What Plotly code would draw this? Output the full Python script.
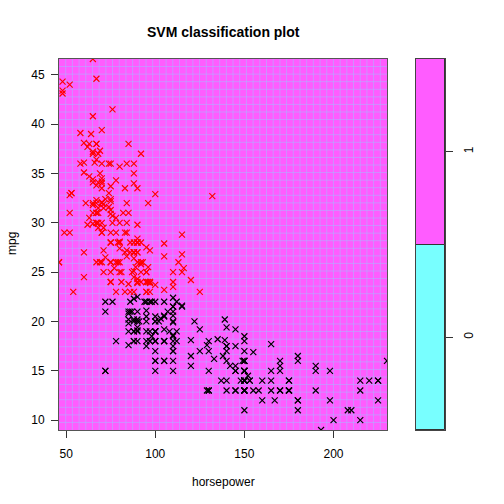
import numpy as np
import plotly.graph_objects as go

horsepower = [
    130,165,150,150,140,198,220,215,225,190,170,160,150,225,95,95,97,85,88,46,87,90,95,113,90,215,200,210,193,
    88,90,95,100,105,100,88,100,165,175,153,150,180,170,175,110,72,100,88,86,90,70,76,65,69,60,70,95,80,54,90,86,
    165,175,150,153,150,208,155,160,190,97,150,130,140,150,112,76,87,69,86,92,97,80,88,
    175,150,145,137,150,198,150,158,150,215,225,175,105,100,100,88,95,46,150,167,170,180,100,88,72,94,90,85,107,90,145,230,49,75,91,112,150,110,122,180,
    95,100,100,67,80,65,75,100,110,105,140,150,150,140,150,83,67,78,52,61,75,75,75,97,93,67,
    95,105,72,72,170,145,150,148,110,105,110,95,110,110,129,75,83,100,78,96,71,97,97,70,90,95,88,98,115,53,86,81,92,79,83,
    140,150,120,152,100,105,81,90,52,60,70,53,100,78,110,95,71,70,75,72,102,150,88,108,120,180,145,130,150,68,80,58,96,70,
    145,110,145,130,110,105,100,98,180,170,190,149,78,88,75,89,63,83,67,78,97,110,110,
    48,66,52,70,60,110,140,139,105,95,85,88,100,90,105,85,110,120,145,165,139,140,68,95,97,75,95,105,85,97,103,125,115,133,71,68,
    115,85,88,90,110,130,129,138,135,155,142,125,150,71,65,80,80,77,125,71,90,70,70,65,69,
    90,115,115,90,76,60,70,65,90,88,90,90,78,90,75,92,75,65,105,65,48,48,67,67,67,67,62,132,100,88,72,
    84,84,92,110,84,58,64,60,67,65,62,68,63,65,65,74,75,75,100,74,80,76,116,120,110,105,88,85,
    88,88,88,85,84,90,92,74,68,68,63,70,88,75,70,67,67,67,110,85,92,112,96,84,90,86,52,84,79,82,
]

mpg = [
    18,15,18,16,17,15,14,14,14,15,15,14,15,14,24,22,18,21,27,26,25,24,25,26,21,10,10,11,9,
    27,28,25,19,16,17,19,18,14,14,14,14,12,13,13,18,22,19,18,23,28,30,30,31,35,27,26,24,25,23,20,21,
    13,14,15,14,17,11,13,12,13,19,15,13,13,14,18,22,21,26,22,28,23,28,27,
    13,14,13,14,15,12,13,13,14,13,12,13,18,16,18,18,23,26,11,12,13,12,18,20,21,22,18,19,21,26,15,16,29,24,20,19,15,24,20,11,
    20,19,15,31,26,32,25,16,16,18,16,13,14,14,14,29,26,26,31,32,28,24,26,24,26,31,
    19,18,15,15,16,15,16,14,17,16,15,18,21,20,13,29,23,20,23,24,25,24,18,29,19,23,23,22,25,33,28,25,25,26,27,
    17.5,16,15.5,14.5,22,22,24,22.5,29,24.5,29,33,20,18,18.5,17.5,29.5,32,28,26.5,20,13,19,19,16.5,16.5,13,13,13,31.5,30,36,25.5,33.5,
    17.5,17,15.5,15,17.5,20.5,19,18.5,16,15.5,15.5,16,29,24.5,26,25.5,30.5,33.5,30,30.5,22,21.5,21.5,
    43.1,36.1,32.8,39.4,36.1,19.9,19.4,20.2,19.2,20.5,20.2,25.1,20.5,19.4,20.6,20.8,18.6,18.1,19.2,17.7,18.1,17.5,30,27.5,27.2,30.9,21.1,23.2,23.8,23.9,20.3,17,21.6,16.2,31.5,29.5,
    21.5,19.8,22.3,20.2,20.6,17,17.6,16.5,18.2,16.9,15.5,19.2,18.5,31.9,34.1,35.7,27.4,25.4,23,27.2,23.9,34.2,34.5,31.8,37.3,
    28.4,28.8,26.8,33.5,41.5,38.1,32.1,37.2,28,26.4,24.3,19.1,34.3,29.8,31.3,37,32.2,46.6,27.9,40.8,44.3,43.4,36.4,30,44.6,33.8,29.8,32.7,23.7,35,32.4,
    27.2,26.6,25.8,23.5,30,39.1,39,35.1,32.3,37,37.7,34.1,34.7,34.4,29.9,33,33.7,32.4,32.9,31.6,28.1,30.7,25.4,24.2,22.4,26.6,20.2,17.6,
    28,27,34,31,29,27,24,36,37,31,38,36,36,36,34,38,32,38,25,38,26,22,32,36,27,27,44,32,28,31,
]

key_levels = [1, 2, 3]
key_labels = ["0", "1"]
x_ticks = [50, 100, 150, 200]
y_ticks = [10, 15, 20, 25, 30, 35, 40, 45]

MAGENTA = "#FF5CFF"
CYAN = "#78FFFF"
SEAM = "rgba(175,175,255,0.6)"

hp = np.array(horsepower, dtype=float)
mp = np.array(mpg, dtype=float)
cls = (mp > np.median(mp)).astype(int)

xr = np.linspace(hp.min(), hp.max(), 50)
yr = np.linspace(mp.min(), mp.max(), 50)

fig = go.Figure()

# filled.contour seams
sx, sy = [], []
for v in xr[1:-1]:
    sx += [v, v, None]
    sy += [yr[0], yr[-1], None]
for v in yr[1:-1]:
    sx += [xr[0], xr[-1], None]
    sy += [v, v, None]
fig.add_trace(go.Scatter(x=sx, y=sy, mode="lines", line=dict(color=SEAM, width=1),
                         hoverinfo="skip", showlegend=False))

for c, col in [(0, "black"), (1, "red")]:
    m = cls == c
    fig.add_trace(go.Scatter(
        x=hp[m], y=mp[m], mode="markers", showlegend=False,
        marker=dict(symbol="x-thin-open", size=6, color=col, line=dict(color=col, width=1.15)),
    ))

# key
fig.add_trace(go.Bar(
    x=[0, 0], y=np.diff(key_levels), base=key_levels[:-1], width=1,
    marker=dict(color=[CYAN, MAGENTA], line=dict(color="#333", width=1)),
    xaxis="x2", yaxis="y2", showlegend=False, hoverinfo="skip",
))

W = 504
L, R, T, B = 59, 59, 59, 74
pw = W - L - R
ph = W - T - B
main_right = (387 - L) / pw
key_left = (416 - L) / pw

axis_font = dict(family="Liberation Sans, Arial, sans-serif", size=12, color="black")

fig.update_layout(
    width=W, height=W,
    margin=dict(l=L, r=R, t=T, b=B, pad=0),
    paper_bgcolor="white",
    plot_bgcolor=MAGENTA,
    showlegend=False,
    bargap=0,
    xaxis=dict(domain=[0, main_right], range=[xr[0], xr[-1]], tickvals=x_ticks,
               ticks="outside", ticklen=7, tickcolor="#333", showgrid=False, zeroline=False,
               showline=True, linecolor="#555", linewidth=1, mirror=True,
               tickfont=axis_font, ticklabelstandoff=6),
    yaxis=dict(domain=[0, 1], range=[yr[0], yr[-1]], tickvals=y_ticks,
               ticks="outside", ticklen=7, tickcolor="#333", showgrid=False, zeroline=False,
               showline=True, linecolor="#555", linewidth=1, mirror=True,
               tickfont=axis_font, ticklabelstandoff=4),
    xaxis2=dict(domain=[key_left, 1], range=[-0.5, 0.5], anchor="y2",
                showticklabels=False, ticks="", showgrid=False, zeroline=False,
                showline=True, linecolor="#444", mirror=True),
    yaxis2=dict(domain=[0, 1], range=[key_levels[0], key_levels[-1]], anchor="x2", side="right",
                tickvals=[l + 0.5 for l in key_levels[:-1]], ticktext=key_labels, tickangle=-90,
                ticks="outside", ticklen=7, tickcolor="#333", showgrid=False, zeroline=False,
                showline=True, linecolor="#444", mirror=True,
                tickfont=axis_font, ticklabelstandoff=6),
    annotations=[
        dict(text="<b>SVM classification plot</b>", xref="paper", yref="paper",
             x=(223 - L) / pw, y=(W - B - 32) / ph, showarrow=False,
             xanchor="center", yanchor="middle",
             font=dict(family="Liberation Sans, Arial, sans-serif", size=14, color="black")),
        dict(text="horsepower", xref="paper", yref="paper",
             x=(223 - L) / pw, y=(W - B - 482) / ph, showarrow=False,
             xanchor="center", yanchor="middle", font=axis_font),
        dict(text="mpg", xref="paper", yref="paper",
             x=(12 - L) / pw, y=(W - B - 244) / ph, showarrow=False, textangle=-90,
             xanchor="center", yanchor="middle", font=axis_font),
    ],
)

fig.write_html("out.html")
